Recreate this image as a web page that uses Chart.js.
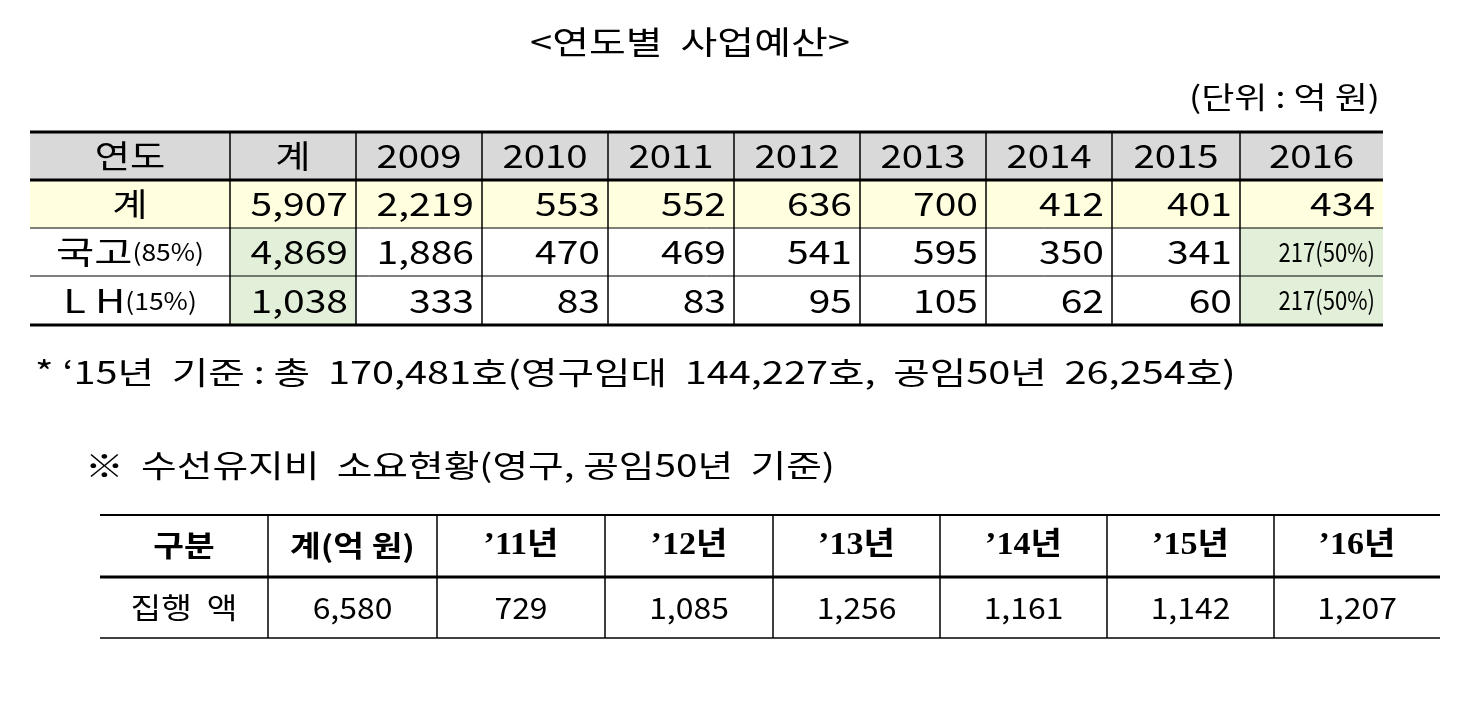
<!DOCTYPE html>
<html><head><meta charset="utf-8">
<script src="https://cdn.jsdelivr.net/npm/chart.js@4"></script>
<style>html,body{margin:0;padding:0;background:#fff}#w{width:1465px;height:703px}</style>
</head><body><div id="w"><canvas id="c"></canvas></div>
<script>
const title = "<연도별  사업예산>";
const unit = "(단위 : 억 원)";
const t1Header = ["연도","계","2009","2010","2011","2012","2013","2014","2015","2016"];
const t1Labels = ["계","국고(85%)","L H(15%)"];
const rowTotal = ["5,907","2,219","553","552","636","700","412","401","434"];
const rowNat = ["4,869","1,886","470","469","541","595","350","341","217(50%)"];
const rowLH = ["1,038","333","83","83","95","105","62","60","217(50%)"];
const note1 = "* ‘15년  기준 : 총  170,481호(영구임대  144,227호,  공임50년  26,254호)";
const note2 = "※  수선유지비  소요현황(영구, 공임50년  기준)";
const t2Header = ["구분","계(억 원)","’11년","’12년","’13년","’14년","’15년","’16년"];
const t2Label = "집행  액";
const t2Values = ["6,580","729","1,085","1,256","1,161","1,142","1,207"];

// layout
const C1 = [30,230,356,482,608,734,860,986,1112,1240,1383];
const R1 = [132,180,228,276,325];
const C2 = [100,268,437,605,773,940,1107,1274,1440];
const R2 = [515,577,638];
const F = '"Noto Sans CJK KR", sans-serif';

const tablePlugin = {
  id:'tables',
  afterDraw(chart){
    const ctx = chart.ctx, xs = chart.scales.x, ys = chart.scales.y;
    const X = v=>xs.getPixelForValue(v), Y = v=>ys.getPixelForValue(v);
    function rect(x0,y0,x1,y1,col){ctx.fillStyle=col;ctx.fillRect(X(x0),Y(y0),X(x1)-X(x0),Y(y1)-Y(y0));}
    function line(x0,y0,x1,y1,w){ctx.strokeStyle='#000';ctx.lineWidth=w;ctx.beginPath();ctx.moveTo(X(x0),Y(y0));ctx.lineTo(X(x1),Y(y1));ctx.stroke();}
    function text(s,x,y,align,font,sx){ctx.save();ctx.fillStyle='#000';ctx.font=font;ctx.textAlign=align;ctx.textBaseline='middle';ctx.translate(X(x),Y(y));if(sx)ctx.scale(sx,1);ctx.fillText(s,0,0);ctx.restore();}
    ctx.save();
    text(title,690,42,'center','32px '+F,1.25);
    text(unit,1380,97,'right','30px '+F,1.2);
    rect(C1[0],R1[0],C1[10],R1[1],'#d9d9d9');
    rect(C1[0],R1[1],C1[10],R1[2],'#ffffe0');
    rect(C1[1],R1[2],C1[2],R1[4],'#e2f0d9');
    rect(C1[9],R1[2],C1[10],R1[4],'#e2f0d9');
    line(C1[0],R1[0],C1[10],R1[0],3);
    line(C1[0],R1[1],C1[10],R1[1],3);
    line(C1[0],R1[2],C1[10],R1[2],1);
    line(C1[0],R1[3],C1[10],R1[3],1);
    line(C1[0],R1[4],C1[10],R1[4],3);
    for(let i=1;i<C1.length-1;i++) line(C1[i],R1[0],C1[i],R1[4],1.5);
    const fnt='32px '+F;
    t1Header.forEach((h,i)=>text(h,(C1[i]+C1[i+1])/2,(R1[0]+R1[1])/2,'center',fnt,1.2));
    const rows=[rowTotal,rowNat,rowLH];
    rows.forEach((r,ri)=>{
      const yc=(R1[ri+1]+R1[ri+2])/2;
      if(ri===0) text(t1Labels[0],(C1[0]+C1[1])/2,yc,'center',fnt,1.2);
      else {
        const p=t1Labels[ri].indexOf('(');
        const a=t1Labels[ri].slice(0,p), b=t1Labels[ri].slice(p);
        ctx.save();ctx.font='24px '+F;const wb=ctx.measureText(b).width*1.1;ctx.font=fnt;const wa=ctx.measureText(a).width*1.3;ctx.restore();
        const x0=(C1[0]+C1[1])/2-(wa+wb)/2;
        text(a,x0,yc,'left',fnt,1.3); text(b,x0+wa,yc,'left','24px '+F,1.1);
      }
      r.forEach((v,ci)=>{
        if(v.indexOf('(')>0) text(v,C1[ci+2]-8,yc,'right','26px '+F,0.85);
        else text(v,C1[ci+2]-8,yc,'right',fnt,1.22);
      });
    });
    text(note1,35,372,'left','31px '+F,1.28);
    text(note2,85,465,'left','31px '+F,1.25);
    line(C2[0],R2[0],C2[8],R2[0],2);
    line(C2[0],R2[1],C2[8],R2[1],3);
    line(C2[0],R2[2],C2[8],R2[2],1.5);
    for(let i=1;i<C2.length-1;i++) line(C2[i],R2[0],C2[i],R2[2],1.5);
    t2Header.forEach((h,i)=>text(h,(C2[i]+C2[i+1])/2,(R2[0]+R2[1])/2,'center',(i<2?'bold 29px '+F:'bold 31px "Liberation Serif", "Noto Sans CJK KR", serif'),i<2?1.15:1.1));
    const y2=(R2[1]+R2[2])/2;
    text(t2Label,(C2[0]+C2[1])/2,y2,'center','29px '+F,1.15);
    t2Values.forEach((v,i)=>text(v,(C2[i+1]+C2[i+2])/2,y2,'center','29px '+F,1.1));
    ctx.restore();
  }
};
new Chart(document.getElementById('c'),{
  type:'scatter',
  data:{datasets:[{data:[],pointRadius:0}]},
  options:{responsive:true,maintainAspectRatio:false,animation:false,
    layout:{padding:0},
    plugins:{legend:{display:false},tooltip:{enabled:false}},
    scales:{x:{type:'linear',min:0,max:1465,display:false},y:{type:'linear',min:0,max:703,reverse:true,display:false}}},
  plugins:[tablePlugin]
});
</script></body></html>
